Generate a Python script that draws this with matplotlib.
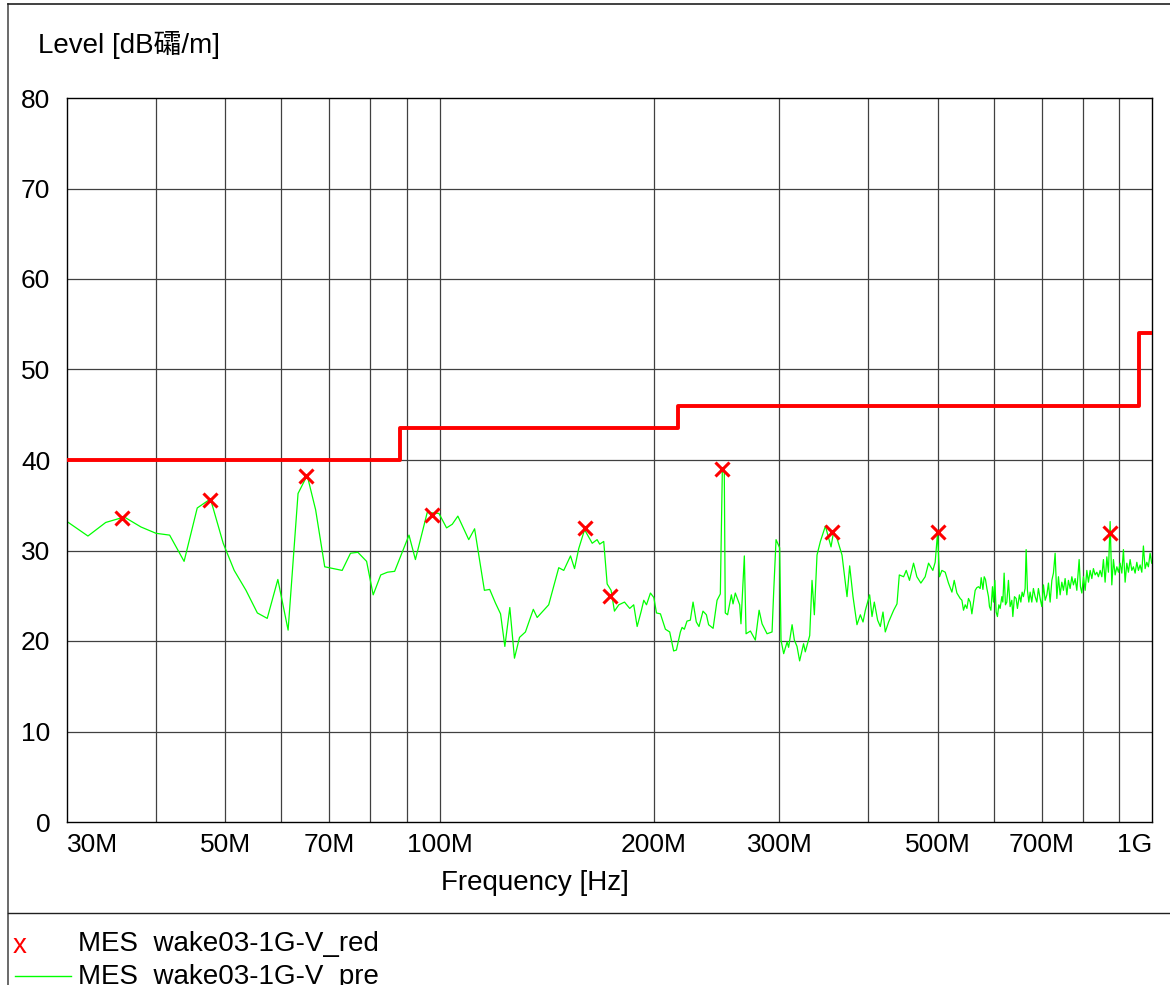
import matplotlib
matplotlib.use("Agg")
import matplotlib.pyplot as plt
from matplotlib.lines import Line2D
from matplotlib.ticker import FixedLocator, NullFormatter

plt.rcParams['font.family'] = ['Liberation Sans', 'Noto Sans CJK JP', 'DejaVu Sans']

# pre-scan trace (MHz, dBuV/m)
scan_freq = [
    30.0, 32.1, 34.0, 36.1, 38.1, 40.0, 41.8, 43.8, 45.7, 47.7, 49.7, 51.5, 53.5, 55.5,
    57.3, 59.3, 61.3, 63.3, 65.2, 67.0, 69.0, 73.0, 75.0, 76.8, 79.0, 80.7, 82.7, 84.5,
    86.5, 90.6, 92.5, 96.1, 99.8, 102.3, 104.2, 106.1, 109.9, 112.0, 115.6, 117.6, 119.8,
    121.8, 123.5, 125.5, 127.4, 129.5, 132.0, 135.4, 137.1, 142.3, 147.0, 149.4, 152.7,
    154.7, 156.8, 159.8, 163.8, 166.4, 167.8, 170.0, 171.9, 174.1, 176.0, 178.5, 181.8,
    184.9, 187.3, 189.4, 191.9, 193.5, 195.2, 197.7, 199.9, 201.6, 204.2, 207.5, 210.4,
    213.1, 215.0, 217.8, 219.0, 220.6, 222.5, 224.9, 226.9, 229.3, 231.3, 234.3, 236.9,
    238.6, 242.1, 245.2, 247.8, 249.4, 251.0, 251.8, 253.7, 256.8, 258.2, 260.1, 263.8,
    264.9, 267.8, 269.3, 273.1, 277.5, 280.9, 283.6, 288.2, 292.9, 294.4, 296.7, 300.2,
    301.5, 304.1, 307.5, 309.0, 312.5, 314.8, 317.5, 320.2, 324.3, 326.1, 330.8, 333.3,
    335.8, 338.7, 342.4, 348.0, 354.4, 357.4, 361.4, 367.2, 373.2, 376.4, 380.5, 385.4,
    389.6, 393.0, 396.0, 401.5, 404.6, 407.6, 412.0, 415.6, 419.2, 422.3, 426.9, 433.9,
    438.6, 441.9, 448.1, 451.9, 456.7, 462.7, 467.7, 473.8, 480.4, 485.7, 492.5, 496.2,
    500.0, 503.2, 507.1, 512.6, 518.0, 523.8, 527.7, 532.3,
    538.0, 541.0, 543.8, 546.8, 549.8, 552.6, 555.7, 558.7, 561.6, 564.7, 567.8, 570.8,
    573.9, 575.8, 579.0, 581.4, 583.8, 586.5, 589.5, 591.4, 594.1, 597.2, 599.1, 601.8,
    604.3, 606.8, 609.6, 612.1, 615.5, 617.5, 620.1, 622.7, 625.5, 628.8, 632.2, 635.7,
    637.8, 641.1, 644.6, 647.3, 651.5, 654.5, 657.2, 660.0, 663.6, 665.8, 668.6, 671.6,
    674.4, 678.1, 681.6, 685.4, 689.2, 692.7, 696.6, 700.5, 704.1, 708.0, 711.9, 715.6,
    719.5, 723.5, 727.2, 731.2, 735.3, 739.1, 743.1, 747.2, 751.1, 755.2, 759.4, 763.3,
    767.5, 771.8, 775.8, 780.0, 784.3, 790.2, 793.5, 797.1, 801.3, 805.7, 810.1, 814.3,
    818.8, 823.3, 827.5, 832.1, 836.7, 841.0, 845.7, 850.3, 854.7, 859.4, 864.2, 868.6,
    873.4, 878.2, 882.8, 887.7, 892.6, 897.2, 902.1, 907.1, 911.8, 916.8, 921.8, 926.6,
    931.7, 936.8, 941.7, 946.9, 952.1, 957.0, 962.3, 967.6, 972.6, 978.0, 983.3, 988.4,
    993.9, 999.0,
]
scan_level = [
    33.2, 31.6, 33.1, 33.7, 32.6, 31.9, 31.7, 28.8, 34.7, 35.7, 30.8, 27.8, 25.6, 23.1,
    22.5, 26.8, 21.2, 36.3, 38.3, 34.5, 28.2, 27.8, 29.7, 29.8, 28.8, 25.1, 27.3, 27.6,
    27.7, 31.7, 29.0, 34.2, 34.1, 32.5, 32.9, 33.8, 31.2, 32.4, 25.6, 25.7, 24.2,
    23.0, 19.4, 23.7, 18.1, 20.4, 21.0, 23.5, 22.6, 24.0, 28.1, 27.8, 29.4,
    28.0, 30.2, 32.3, 30.8, 31.2, 30.7, 31.0, 26.3, 25.6, 23.3, 24.0, 24.3,
    23.6, 24.0, 21.6, 23.3, 24.5, 24.0, 25.3, 24.8, 23.1, 23.0, 21.3, 21.0,
    18.9, 19.0, 21.0, 21.5, 21.3, 22.2, 22.3, 24.3, 22.1, 21.6, 23.3, 22.9,
    21.8, 21.4, 24.5, 25.2, 38.7, 38.7, 23.1, 22.9, 25.1, 24.1, 25.3, 24.0,
    21.9, 29.4, 20.8, 21.1, 20.1, 23.4, 21.9, 20.8, 21.0, 25.3, 31.2, 30.3,
    20.1, 18.6, 19.9, 19.3, 21.8, 20.1, 19.4, 17.8, 19.7, 18.8, 20.6, 26.7,
    22.9, 29.5, 31.0, 32.7, 30.4, 32.1, 31.3, 29.5, 24.9, 28.3, 24.9, 21.8,
    22.9, 22.1, 23.4, 25.1, 22.7, 24.3, 22.3, 21.6, 23.2, 21.0, 22.1, 23.4,
    24.1, 27.3, 27.1, 27.8, 26.7, 28.6, 27.1, 26.4, 27.1, 28.6, 27.8, 28.7,
    31.9, 27.1, 27.8, 27.6, 26.4, 25.4, 26.7, 25.3,
    24.7, 24.5, 23.4, 24.0, 23.6, 24.7, 24.3, 23.0, 24.3, 25.6, 25.9, 26.0,
    25.8, 27.0, 25.7, 27.1, 26.8, 25.8, 24.9, 23.8, 23.4, 26.0, 24.3, 26.7,
    23.2, 22.7, 24.0, 23.6, 24.9, 24.3, 27.5, 24.0, 24.3, 26.7, 23.8, 24.5,
    22.7, 24.9, 24.7, 23.6, 25.1, 24.3, 25.4, 24.9, 25.8, 30.1, 25.6, 24.3,
    25.4, 24.3, 25.8, 24.9, 24.3, 25.8, 24.7, 23.8, 26.2, 24.5, 25.1, 26.4,
    24.3, 26.7, 27.5, 29.7, 24.7, 27.1, 25.1, 26.5, 25.6, 26.9, 25.1, 26.7,
    25.8, 27.1, 26.2, 26.9, 25.6, 29.0, 26.0, 25.3, 27.1, 25.6, 27.8, 26.5,
    27.8, 26.9, 28.0, 27.3, 27.6, 27.1, 27.8, 27.1, 29.0, 26.5, 29.3, 27.6,
    33.2, 26.2, 29.0, 27.3, 28.2, 27.6, 28.6, 27.5, 30.1, 26.5, 28.6, 27.6,
    29.0, 27.8, 28.2, 27.5, 28.7, 27.8, 28.4, 27.6, 30.5, 28.0, 28.7, 28.2,
    29.7, 28.6,
]

# final measurement points
meas_freq = [35.8, 47.7, 65.0, 97.7, 159.8, 173.3, 249.4, 355.6, 500.0, 872.0]
meas_level = [33.6, 35.6, 38.2, 33.9, 32.5, 25.0, 39.0, 32.0, 32.0, 31.9]

# class B limit, 3 m
limit_freq = [30, 88, 216, 960, 1000]
limit_level = [40, 43.5, 46, 54, 54]

tick_freq = [30, 50, 70, 100, 200, 300, 500, 700, 1000]
tick_text = ['30M', '50M', '70M', '100M', '200M', '300M', '500M', '700M', '1G']
grid_freq = [40, 50, 60, 70, 80, 90, 100, 200, 300, 400, 500, 600, 700, 800, 900]

fig = plt.figure(figsize=(11.7, 9.85), dpi=100)
ax = fig.add_axes([67 / 1170, 1 - 822 / 985, (1152 - 67) / 1170, (822 - 98) / 985])

ax.set_xscale('log')
ax.set_xlim(30, 1000)
ax.set_ylim(0, 80)

for f in grid_freq:
    ax.axvline(f, color='#404040', lw=0.9, zorder=1)
for lv in range(10, 80, 10):
    ax.axhline(lv, color='#404040', lw=0.9, zorder=1)

ax.step(limit_freq, limit_level, where='post', color='#ff0000', lw=2.8, zorder=3)
ax.plot(scan_freq, scan_level, color='#00ff00', lw=0.9, zorder=2)
ax.plot(meas_freq, meas_level, ls='none', marker='x', ms=10, mew=2.2,
        color='#ff0000', zorder=4)

ax.xaxis.set_major_locator(FixedLocator(tick_freq))
ax.xaxis.set_minor_locator(FixedLocator([]))
ax.xaxis.set_minor_formatter(NullFormatter())
ax.set_xticks(tick_freq)
ax.set_xticklabels(tick_text, fontsize=19)
ax.set_yticks(range(0, 90, 10))
ax.tick_params(axis='y', labelsize=19, length=0, pad=12)
ax.tick_params(axis='x', length=0, pad=8)
labels = ax.get_xticklabels()
labels[0].set_horizontalalignment('left')
labels[-1].set_horizontalalignment('right')
for s in ax.spines.values():
    s.set_color('black')
    s.set_linewidth(1.0)

fig.text(38 / 1170, 1 - 45 / 985, 'Level [dB礵/m]', fontsize=20, va='center', ha='left')
fig.text(535 / 1170, 1 - 883 / 985, 'Frequency [Hz]', fontsize=20, va='center', ha='center')

# page frame and legend divider
fig.add_artist(Line2D([8 / 1170, 8 / 1170], [0, 1 - 4 / 985], color='#505050', lw=1.2))
fig.add_artist(Line2D([8 / 1170, 1], [1 - 4 / 985, 1 - 4 / 985], color='#202020', lw=1.2))
fig.add_artist(Line2D([8 / 1170, 1], [1 - 913 / 985, 1 - 913 / 985], color='#202020', lw=1.0))

# legend (second entry runs off the bottom of the page)
fig.text(20 / 1170, 1 - 946 / 985, 'x', color='#ff0000', fontsize=20, va='center', ha='center')
fig.text(78 / 1170, 1 - 944 / 985, 'MES  wake03-1G-V_red', fontsize=20, va='center', ha='left')
fig.add_artist(Line2D([15 / 1170, 71 / 1170], [1 - 976 / 985, 1 - 976 / 985],
                      color='#00ff00', lw=1.0))
fig.text(78 / 1170, 1 - 977 / 985, 'MES  wake03-1G-V_pre', fontsize=20, va='center', ha='left')

fig.savefig('out.png', dpi=100)
